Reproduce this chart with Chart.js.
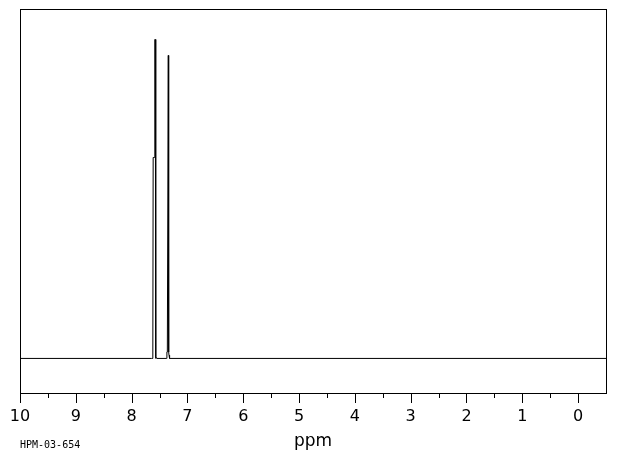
<!DOCTYPE html>
<html>
<head>
<meta charset="utf-8">
<script src="https://cdn.jsdelivr.net/npm/chart.js@4"></script>
<style>
  html, body { margin: 0; padding: 0; background: #fff; }
  #wrap { width: 620px; height: 455px; position: relative; }
</style>
</head>
<body>
<div id="wrap"><canvas id="c"></canvas></div>
<script>
// Spectrum data (chemical shift in ppm, relative intensity)
const shifts      = [10.0, 7.64, 7.62, 7.614, 7.592, 7.584, 7.576, 7.570, 7.565, 7.55, 7.38, 7.368, 7.360, 7.350, 7.343, 7.336, 7.330, 7.32, -0.5];
const intensities = [0,    0,    0,    63,    63,    100,   100,   0,     0.5,   0,    0,    2,     2,     2,     95,    2,     1,     0,    0];
// Axis tick labels
const majorTicks = [10, 9, 8, 7, 6, 5, 4, 3, 2, 1, 0];
const minorTicks = [9.5, 8.5, 7.5, 6.5, 5.5, 4.5, 3.5, 2.5, 1.5, 0.5];
const xTitle = 'ppm';
const sampleId = 'HPM-03-654';

const points = shifts.map((s, i) => ({ x: s, y: intensities[i] }));

const framePlugin = {
  id: 'frame',
  afterDraw(chart) {
    const ctx = chart.ctx;
    const a = chart.chartArea;
    const xs = chart.scales.x;
    ctx.save();
    ctx.strokeStyle = '#000';
    ctx.lineWidth = 1;
    ctx.strokeRect(Math.round(a.left) + 0.5, Math.round(a.top) + 0.5,
                   Math.round(a.right - a.left), Math.round(a.bottom - a.top));
    ctx.beginPath();
    majorTicks.forEach(v => {
      const px = Math.round(xs.getPixelForValue(v)) + 0.5;
      ctx.moveTo(px, a.bottom); ctx.lineTo(px, a.bottom + 10);
    });
    minorTicks.forEach(v => {
      const px = Math.round(xs.getPixelForValue(v)) + 0.5;
      ctx.moveTo(px, a.bottom); ctx.lineTo(px, a.bottom + 5);
    });
    ctx.stroke();
    ctx.fillStyle = '#000';
    ctx.font = '10px "DejaVu Sans Mono"';
    ctx.textBaseline = 'alphabetic';
    ctx.textAlign = 'left';
    ctx.fillText(sampleId, 20, 448);
    ctx.restore();
  }
};

new Chart(document.getElementById('c'), {
  type: 'line',
  data: {
    datasets: [{
      data: points,
      borderColor: '#000',
      borderWidth: 1,
      pointRadius: 0,
      tension: 0,
      fill: false
    }]
  },
  options: {
    responsive: true,
    maintainAspectRatio: false,
    animation: false,
    devicePixelRatio: 1,
    layout: { padding: { left: 20, right: 14, top: 9, bottom: 2.8 } },
    plugins: { legend: { display: false }, tooltip: { enabled: false } },
    scales: {
      x: {
        type: 'linear',
        reverse: true,
        min: -0.5,
        max: 10,
        grid: { display: false, drawTicks: true, tickLength: 14.4 },
        border: { display: false },
        afterBuildTicks: (scale) => { scale.ticks = majorTicks.map(v => ({ value: v })); },
        afterFit: (scale) => { scale.paddingLeft = 0; scale.paddingRight = 0; },
        ticks: {
          color: '#000',
          padding: 0,
          maxRotation: 0,
          autoSkip: false,
          font: { family: 'DejaVu Sans', size: 16 },
          callback: (v) => String(v)
        },
        title: {
          display: true,
          text: xTitle,
          color: '#000',
          font: { family: 'DejaVu Sans', size: 17 },
          padding: { top: 5.2, bottom: 0 }
        }
      },
      y: {
        display: false,
        min: -10.84,
        max: 109.56
      }
    }
  },
  plugins: [framePlugin]
});
</script>
</body>
</html>
